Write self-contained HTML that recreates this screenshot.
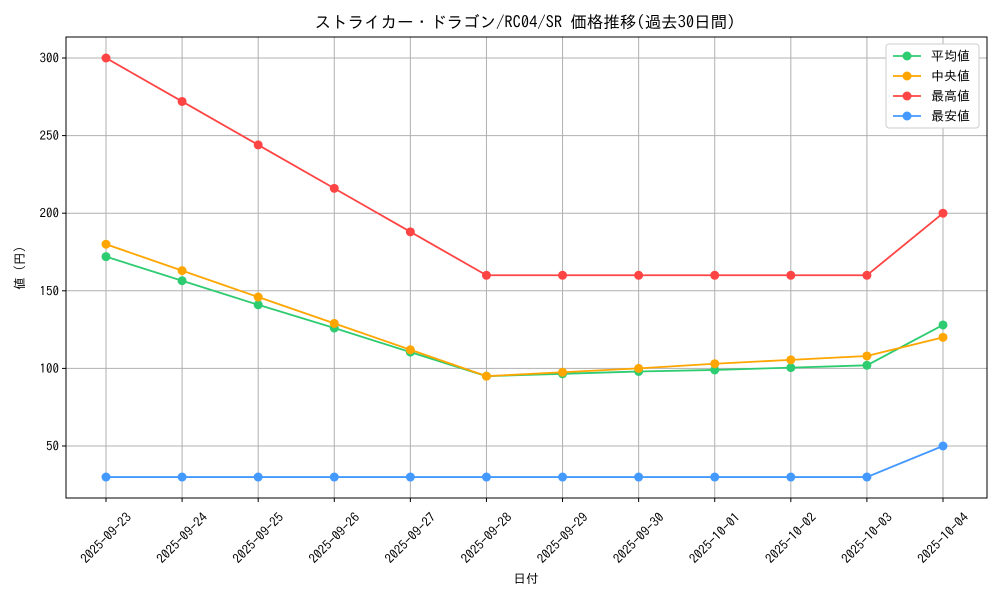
<!DOCTYPE html>
<html><head><meta charset="utf-8"><style>
body{margin:0;background:#fff;}
svg text{font-family:"IPAGothic","Noto Sans CJK JP",monospace;fill:#000;}
</style></head><body>
<svg id="c" width="1000" height="600"></svg>
<script>
const dates=["2025-09-23","2025-09-24","2025-09-25","2025-09-26","2025-09-27","2025-09-28","2025-09-29","2025-09-30","2025-10-01","2025-10-02","2025-10-03","2025-10-04"];
const avgVals=[172,156.5,141,126,110.5,95,96.5,98,99,100.5,102,128];
const medVals=[180,163,146,129,112,95,97.5,100,103,105.5,108,120];
const maxVals=[300,272,244,216,188,160,160,160,160,160,160,200];
const minVals=[30,30,30,30,30,30,30,30,30,30,30,50];
const yTicks=[50,100,150,200,250,300];
const seriesNames=["平均値","中央値","最高値","最安値"];
const NS="http://www.w3.org/2000/svg";
const svg=document.getElementById('c');
function el(t,a,p){const e=document.createElementNS(NS,t);for(const k in a)e.setAttribute(k,a[k]);(p||svg).appendChild(e);return e;}
const L=66,R=987,T=37,B=498;
const x=i=>106+i*(943-106)/11;
const y=v=>523.6-v*1.552;
let g;
for(const t of yTicks){g=el('line',{x1:L,x2:R,y1:y(t),y2:y(t),stroke:'#b0b0b0','stroke-width':1});

el('line',{x1:L-4,x2:L,y1:y(t),y2:y(t),stroke:'#000'});
const tx=el('text',{x:L-7,y:y(t)+4.5,'font-size':13,'text-anchor':'end'});tx.textContent=t;
}
dates.forEach((d,i)=>{g=el('line',{x1:x(i),x2:x(i),y1:T,y2:B,stroke:'#b0b0b0','stroke-width':1});

el('line',{x1:x(i),x2:x(i),y1:B,y2:B+4,stroke:'#000'});
const cx=x(i),cy=538;
const tx=el('text',{x:cx,y:cy+4.5,'font-size':13,'text-anchor':'middle',transform:`rotate(-45 ${cx} ${cy})`});tx.textContent=d;
});
const fr=el('rect',{x:L,y:T,width:R-L,height:B-T,fill:'none',stroke:'#000'});

const colors=['#2ecc71','#ffa500','#ff4444','#4499ff'];
const data=[avgVals,medVals,maxVals,minVals];
const keys=['average','median','max','min'];
data.forEach((vals,si)=>{
 const p=el('polyline',{points:vals.map((v,i)=>x(i)+','+y(v)).join(' '),fill:'none',stroke:colors[si],'stroke-width':1.8});
 
 vals.forEach((v,i)=>{const c=el('circle',{cx:x(i),cy:y(v),r:4.5,fill:colors[si]});
 });
});
const t=el('text',{x:525,y:28,'font-size':16.5,'text-anchor':'middle'});t.textContent='ストライカー・ドラゴン/RC04/SR 価格推移(過去30日間)';

const xt=el('text',{x:526,y:583,'font-size':12.5,'text-anchor':'middle'});xt.textContent='日付';

const yt=el('text',{x:24,y:268,'font-size':12.5,'text-anchor':'middle',transform:'rotate(-90 24 268)'});yt.textContent='値 (円)';

const lg=el('g',{});
el('rect',{x:886,y:44,width:93,height:84,fill:'#fff',stroke:'#ccc',rx:3},lg);
seriesNames.forEach((n,i)=>{const yy=56+i*20;
 const e=el('g',{},lg);
 el('line',{x1:893,x2:921,y1:yy,y2:yy,stroke:colors[i],'stroke-width':1.8},e);
 el('circle',{cx:907,cy:yy,r:4.5,fill:colors[i]},e);
 const tx=el('text',{x:931,y:yy+4.5,'font-size':13},e);tx.textContent=n;});
</script>
</body></html>
